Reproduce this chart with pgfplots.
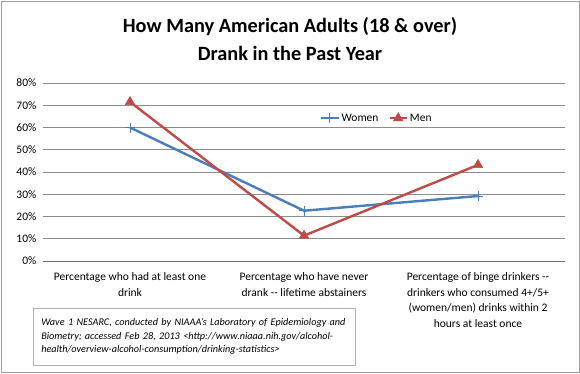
\documentclass[border=0pt]{standalone}
\usepackage{fontspec}
\setmainfont{Carlito}
\usepackage{pgfplots}
\pgfplotsset{compat=1.18}
\definecolor{wblue}{HTML}{4A7EBB}
\definecolor{mred}{HTML}{BE4B48}
\definecolor{gridc}{HTML}{8C8C8C}
\begin{document}
\begin{tikzpicture}
\useasboundingbox (0pt,0pt) rectangle (580pt,373pt);
\draw[gray!75, line width=0.8pt] (1pt,1pt) rectangle (579pt,372pt);
\node[font=\bfseries\fontsize{20.3}{28}\selectfont, align=center] at (290pt,334pt)
  {How Many American Adults (18 \& over)\\Drank in the Past Year};
\begin{axis}[
  at={(43pt,112pt)}, anchor=south west,
  scale only axis, width=522pt, height=178pt,
  xmin=-0.5, xmax=2.5, ymin=0, ymax=80,
  ytick={0,10,...,80},
  yticklabel={\pgfmathprintnumber{\tick}\%},
  /pgf/number format/assume math mode=true,
  xtick={0,1,2},
  xticklabels={{Percentage who had at least one\\drink},
               {Percentage who have never\\drank -{}- lifetime abstainers},
               {Percentage of binge drinkers -{}-\\drinkers who consumed 4+/5+\\(women/men) drinks within 2\\hours at least once}},
  xticklabel style={align=center, font=\fontsize{11.5}{15.6}\selectfont, yshift=-6pt},
  yticklabel style={font=\fontsize{11.5}{12}\selectfont, xshift=-1pt},
  tick style={draw=none},
  axis x line=bottom, axis y line=left,
  x axis line style={-, draw=gray!85!black, line width=0.8pt},
  y axis line style={draw=none},
  ymajorgrids, grid style={gridc, line width=0.8pt},
  legend style={at={(0.525,0.803)}, anchor=west, draw=none, fill=none,
    legend columns=2, font=\fontsize{11.5}{12}\selectfont,
    /tikz/every even column/.append style={column sep=8pt}},
  legend cell align=left,
]
\addplot[wblue, line width=2.4pt, mark=+, mark size=5pt, mark options={line width=1pt}]
  coordinates {(0,60.0) (1,22.6) (2,29.2)};
\addlegendentry{Women}
\addplot[mred, line width=2.4pt, mark=triangle*, mark size=5.5pt, mark options={line width=0.5pt, fill=mred}]
  coordinates {(0,71.5) (1,11.4) (2,43.2)};
\addlegendentry{Men}
\end{axis}
\node[draw=gray!60, line width=0.6pt, anchor=north west, inner xsep=8pt, inner ysep=0pt,
  minimum height=57pt, text width=306pt, align=left,
  font=\itshape\fontsize{10.2}{13.5}\selectfont] at (33pt,65pt)
  {Wave 1 NESARC, conducted by NIAAA's Laboratory of Epidemiology and\\
   Biometry; accessed Feb 28, 2013 <http://www.niaaa.nih.gov/alcohol-\\
   health/overview-alcohol-consumption/drinking-statistics>};
\end{tikzpicture}
\end{document}
